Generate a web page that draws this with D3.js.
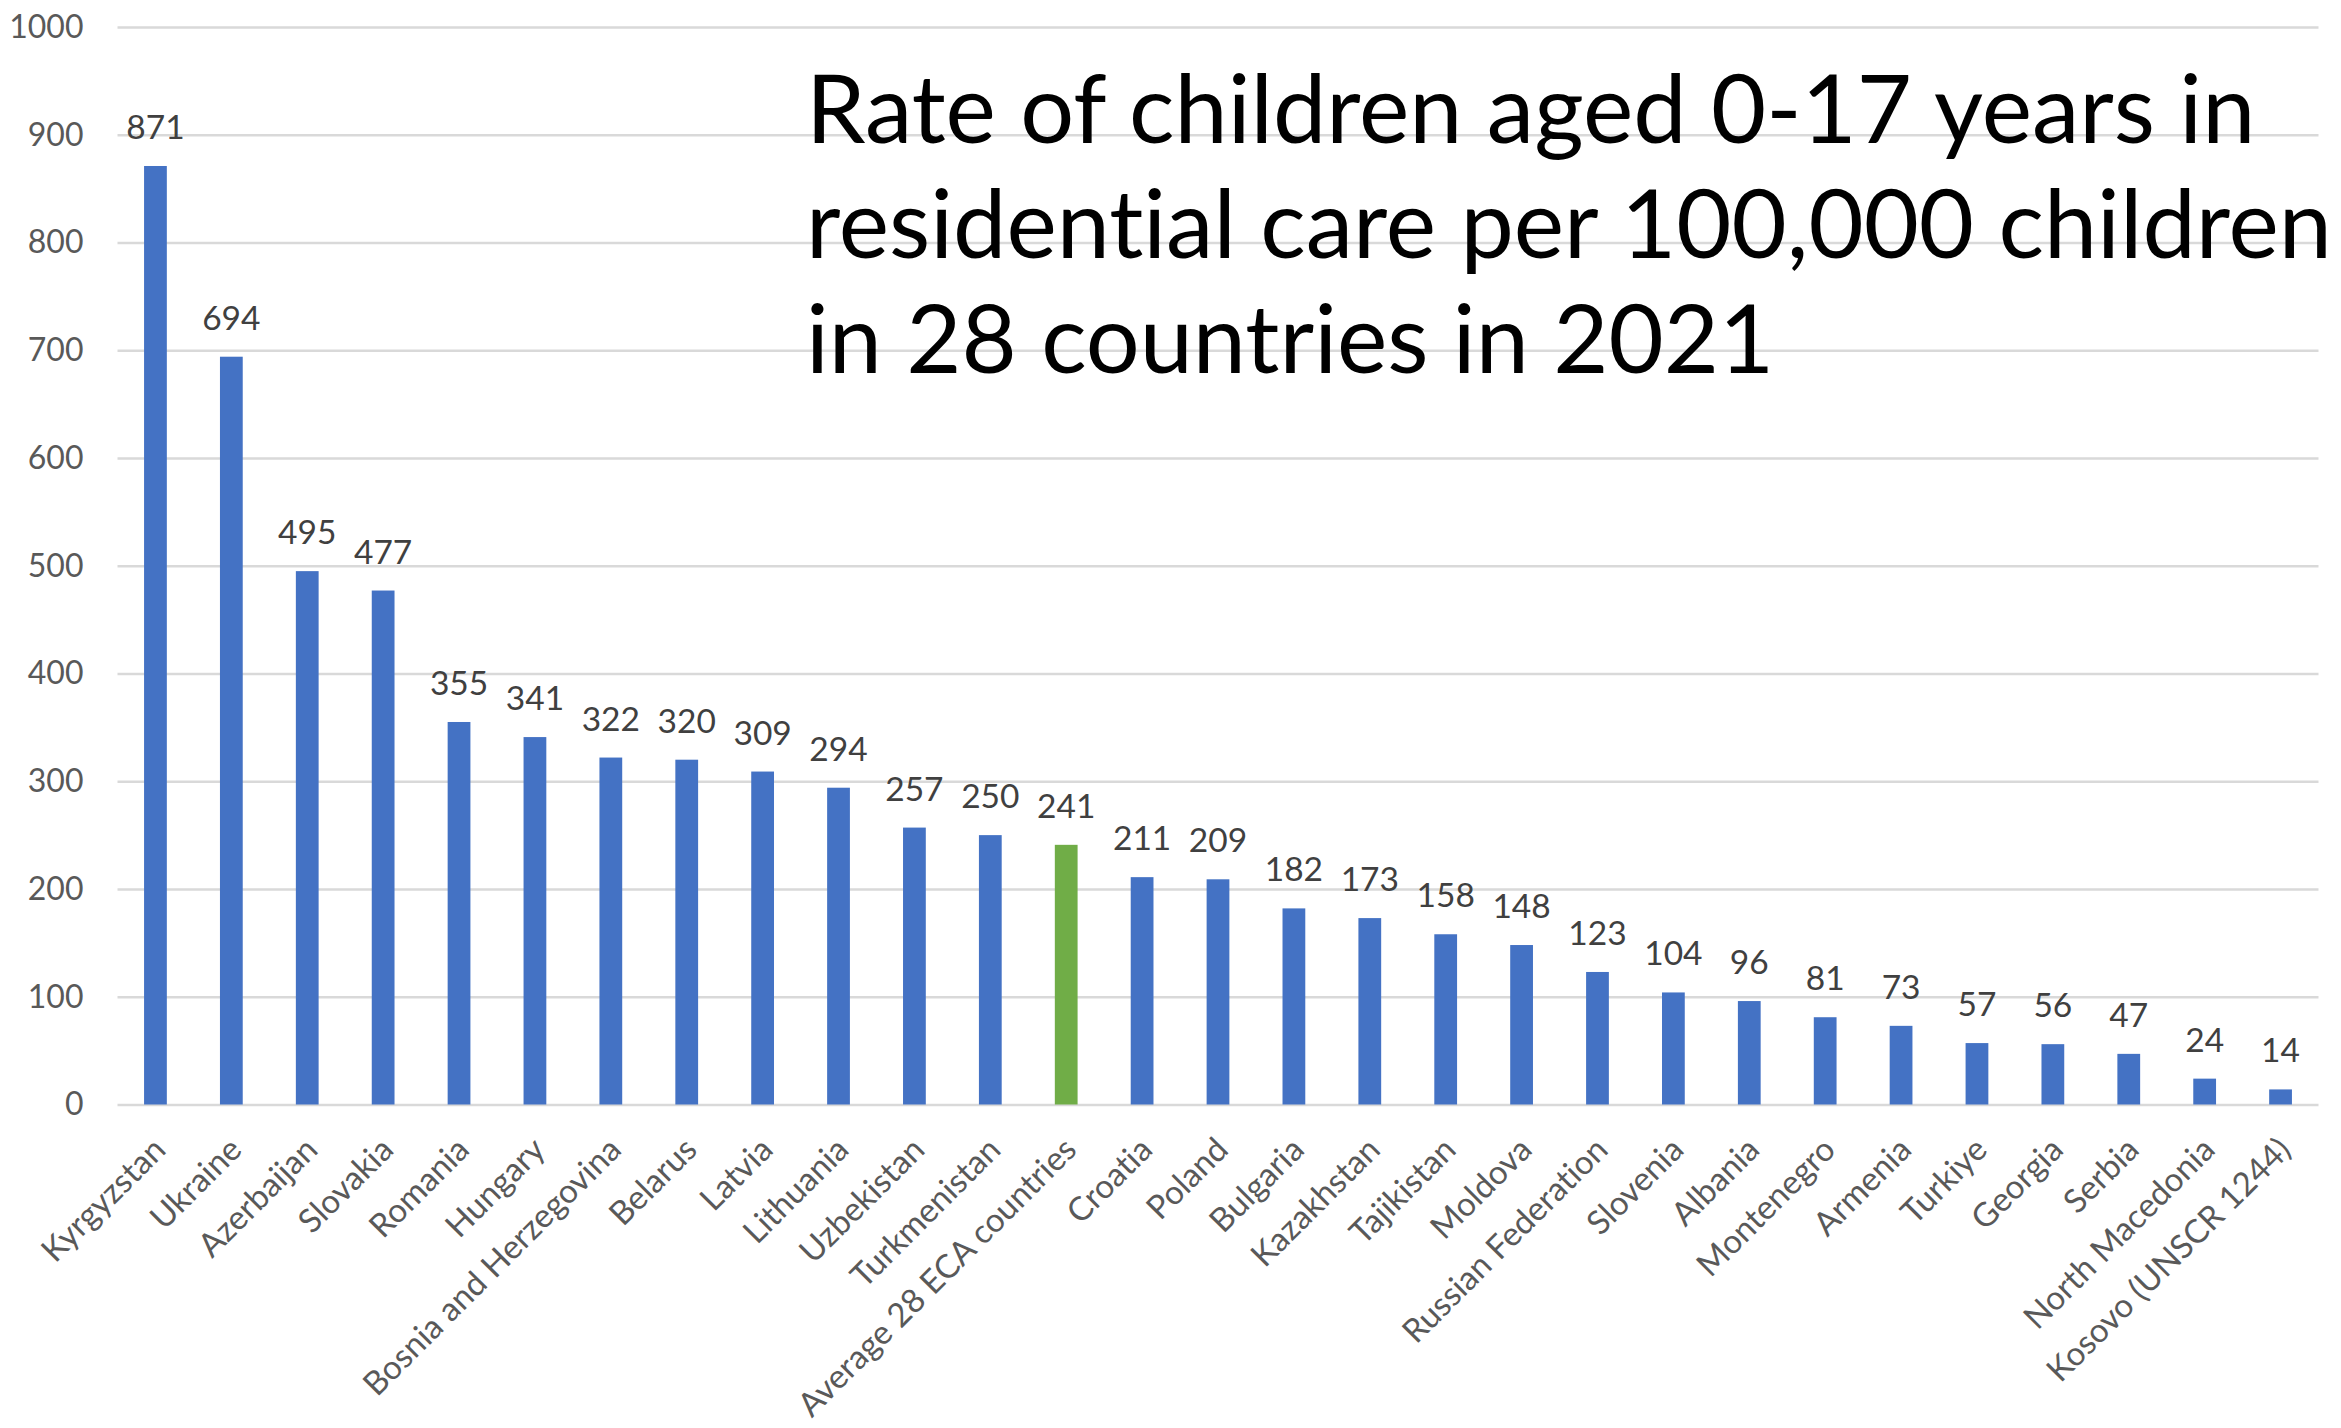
<!DOCTYPE html>
<html>
<head>
<meta charset="utf-8">
<script src="https://cdn.jsdelivr.net/npm/d3@7"></script>
<style>
  html, body { margin: 0; padding: 0; background: #ffffff; }
  svg { display: block; }
  svg text { font-variant-ligatures: none; font-feature-settings: "liga" 0; }
</style>
</head>
<body>
<svg id="chart" width="2341" height="1428"></svg>
<script>
// Residential care rates per 100,000 children, 2021
const countries = [
  "Kyrgyzstan", "Ukraine", "Azerbaijan", "Slovakia", "Romania", "Hungary",
  "Bosnia and Herzegovina", "Belarus", "Latvia", "Lithuania", "Uzbekistan",
  "Turkmenistan", "Average 28 ECA countries", "Croatia", "Poland", "Bulgaria",
  "Kazakhstan", "Tajikistan", "Moldova", "Russian Federation", "Slovenia",
  "Albania", "Montenegro", "Armenia", "Turkiye", "Georgia", "Serbia",
  "North Macedonia", "Kosovo (UNSCR 1244)"
];
const rates = [
  871, 694, 495, 477, 355, 341, 322, 320, 309, 294, 257, 250, 241, 211, 209,
  182, 173, 158, 148, 123, 104, 96, 81, 73, 57, 56, 47, 24, 14
];
const averageLabel = "Average 28 ECA countries";
const yTicks = [0, 100, 200, 300, 400, 500, 600, 700, 800, 900, 1000];
const titleLines = [
  "Rate of children aged 0-17 years in",
  "residential care per 100,000 children",
  "in 28 countries in 2021"
];

const data = countries.map((c, i) => ({ country: c, value: rates[i] }));

const svg = d3.select("#chart");
const FONT = "Lato, 'Open Sans', sans-serif";

const plotLeft = 117.5, plotRight = 2318.5;
const plotTop = 27, plotBottom = 1104.5;

const x = d3.scaleBand()
  .domain(countries)
  .range([plotLeft, plotRight])
  .paddingInner(0.7)
  .paddingOuter(0.35);

const y = d3.scaleLinear()
  .domain([0, 1000])
  .range([plotBottom, plotTop]);

// Horizontal gridlines with value labels
const yAxis = svg.append("g")
  .attr("transform", `translate(${plotLeft},0)`)
  .call(d3.axisLeft(y)
    .tickValues(yTicks)
    .tickFormat(d3.format("d"))
    .tickSize(-(plotRight - plotLeft))
    .tickPadding(34));
yAxis.select(".domain").remove();
yAxis.selectAll(".tick line")
  .attr("stroke", "#d9d9d9")
  .attr("stroke-width", 2.6);
yAxis.selectAll(".tick text")
  .attr("fill", "#595959")
  .style("font-family", FONT)
  .style("font-size", "32px");

// Bars
svg.append("g")
  .selectAll("rect")
  .data(data)
  .join("rect")
  .attr("x", d => x(d.country))
  .attr("width", x.bandwidth())
  .attr("y", d => y(d.value))
  .attr("height", d => y(0) - y(d.value))
  .attr("fill", d => d.country === averageLabel ? "#70ad47" : "#4472c4");

// Value labels above bars
svg.append("g")
  .selectAll("text")
  .data(data)
  .join("text")
  .attr("x", d => x(d.country) + x.bandwidth() / 2)
  .attr("y", d => y(d.value) - 27)
  .attr("text-anchor", "middle")
  .attr("fill", "#404040")
  .style("font-family", FONT)
  .style("font-size", "33.5px")
  .text(d => d.value);

// Category axis with slanted labels
const xAxis = svg.append("g")
  .attr("transform", `translate(0,${plotBottom})`)
  .call(d3.axisBottom(x).tickSize(0).tickPadding(0));
xAxis.select(".domain").remove();
xAxis.selectAll(".tick text")
  .attr("fill", "#595959")
  .style("font-family", FONT)
  .style("font-size", "33px")
  .attr("text-anchor", "end")
  .attr("y", 0)
  .attr("dy", "0.35em")
  .attr("transform", "translate(4,39) rotate(-45)");

// Title block
const title = svg.append("g");
const titleX = 806;
const baselines = [143, 258, 373];
const tl = title.selectAll("text")
  .data(titleLines)
  .join("text")
  .attr("x", titleX)
  .attr("y", (d, i) => baselines[i])
  .attr("fill", "#000000")
  .style("font-family", FONT)
  .style("font-size", "100px")
  .text(d => d);
// Size the title so the longest line spans the text box width
const widest = tl.nodes()[1].getComputedTextLength();
const fitted = 100 * 1526 / widest;
tl.style("font-size", fitted + "px");
</script>
</body>
</html>
